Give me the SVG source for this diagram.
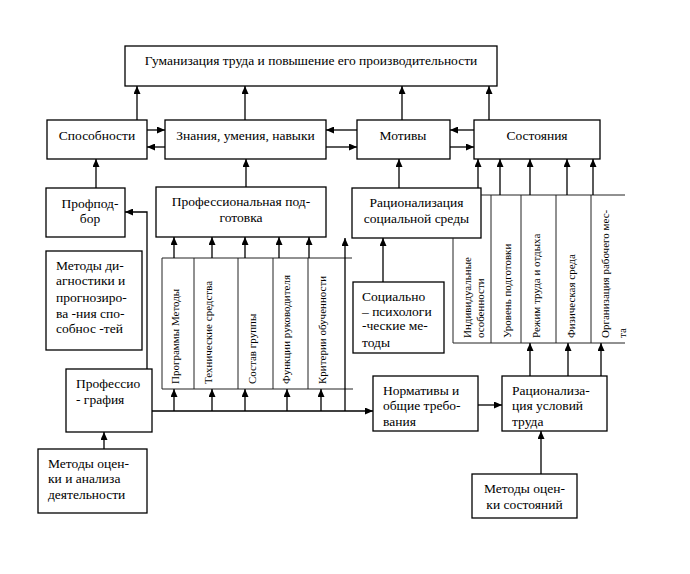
<svg xmlns="http://www.w3.org/2000/svg" width="690" height="574" viewBox="0 0 690 574">
<style>
.b{fill:#fff;stroke:#000;stroke-width:1.3}
.t{font-family:"Liberation Serif","Times New Roman",serif;font-size:13.5px;fill:#000}
.c{text-anchor:middle}
.r{font-family:"Liberation Serif","Times New Roman",serif;font-size:11px;fill:#000}
.l{fill:none;stroke:#000;stroke-width:1.3}
.a{fill:none;stroke:#000;stroke-width:1.3;marker-end:url(#ah)}
.g{fill:none;stroke:#222;stroke-width:1}
</style>
<defs>
<marker id="ah" markerUnits="userSpaceOnUse" markerWidth="8" markerHeight="7" refX="8" refY="3.5" orient="auto">
<path d="M0,0 L8,3.5 L0,7 z" fill="#000"/>
</marker>
</defs>
<rect width="690" height="574" fill="#fff"/>

<g id="title"><rect class="b" x="125" y="46" width="372" height="40"/><text class="t c" x="311" y="65">Гуманизация труда и повышение его производительности</text></g>
<g id="sposobnosti"><rect class="b" x="47" y="120" width="100" height="39"/><text class="t c" x="97" y="140">Способности</text></g>
<g id="znaniya"><rect class="b" x="165" y="120" width="161" height="39"/><text class="t c" x="245.5" y="140">Знания, умения, навыки</text></g>
<g id="motivy"><rect class="b" x="357" y="120" width="93" height="39"/><text class="t c" x="403" y="140">Мотивы</text></g>
<g id="sostoyaniya"><rect class="b" x="474" y="120" width="126" height="39"/><text class="t c" x="537" y="140">Состояния</text></g>

<g id="profpodbor"><rect class="b" x="46" y="188" width="79" height="49"/><text class="t c" x="90" y="208">Профпод-</text><text class="t c" x="90" y="223">бор</text></g>
<g id="profpodgotovka"><rect class="b" x="156" y="187" width="170" height="50"/><text class="t c" x="241" y="206">Профессиональная под-</text><text class="t c" x="241" y="222">готовка</text></g>
<g id="racsoc"><rect class="b" x="352" y="188" width="129" height="50"/><text class="t c" x="416.5" y="207">Рационализация</text><text class="t c" x="416.5" y="223">социальной среды</text></g>

<g id="metdiag"><rect class="b" x="46" y="251" width="96" height="99"/>
<text class="t" x="56" y="270">Методы ди-</text><text class="t" x="56" y="285">агностики и</text><text class="t" x="56" y="302">прогнозиро-</text><text class="t" x="56" y="318">ва -ния спо-</text><text class="t" x="56" y="333">собнос -тей</text></g>

<g id="socpsy"><rect class="b" x="353" y="282" width="91" height="71"/>
<text class="t" x="362" y="301">Социально</text><text class="t" x="362" y="316">– психологи</text><text class="t" x="362" y="330">-ческие ме-</text><text class="t" x="362" y="347">тоды</text></g>

<g id="proftable">
<line class="g" x1="162" y1="258" x2="352" y2="258"/>
<line class="g" x1="162" y1="389" x2="353" y2="389"/>
<line class="g" x1="162" y1="258" x2="162" y2="389"/>
<line class="g" x1="194" y1="258" x2="194" y2="389"/>
<line class="g" x1="238" y1="258" x2="238" y2="389"/>
<line class="g" x1="273" y1="258" x2="273" y2="389"/>
<line class="g" x1="308" y1="258" x2="308" y2="389"/>
<text class="r" transform="translate(179,384) rotate(-90)">Программы Методы</text>
<text class="r" transform="translate(212,384) rotate(-90)">Технические средства</text>
<text class="r" transform="translate(256,384) rotate(-90)">Состав группы</text>
<text class="r" transform="translate(290,384) rotate(-90)">Функции руководителя</text>
<text class="r" transform="translate(326,384) rotate(-90)">Критерии обученности</text>
</g>

<g id="statetable">
<line class="g" x1="481" y1="195" x2="625" y2="195"/>
<line class="g" x1="453" y1="343" x2="625" y2="343"/>
<line class="g" x1="453" y1="238" x2="453" y2="343"/>
<line class="g" x1="491" y1="195" x2="491" y2="343"/>
<line class="g" x1="521" y1="195" x2="521" y2="343"/>
<line class="g" x1="556" y1="195" x2="556" y2="343"/>
<line class="g" x1="591" y1="195" x2="591" y2="343"/>
<text class="r" transform="translate(471,338) rotate(-90)">Индивидуальные</text>
<text class="r" transform="translate(484,338) rotate(-90)">особенности</text>
<text class="r" transform="translate(511,338) rotate(-90)">Уровень подготовки</text>
<text class="r" transform="translate(540,338) rotate(-90)">Режим труда и отдыха</text>
<text class="r" transform="translate(575,338) rotate(-90)">Физическая среда</text>
<text class="r" transform="translate(609,338) rotate(-90)">Организация рабочего мес-</text>
<text class="r" transform="translate(626,338) rotate(-90)">та</text>
</g>

<g id="professiografiya"><rect class="b" x="66" y="369" width="86" height="63"/><text class="t" x="76" y="388">Профессио</text><text class="t" x="76" y="404">- графия</text></g>
<g id="metocenki"><rect class="b" x="38" y="449" width="109" height="64"/><text class="t" x="48" y="468">Методы оцен-</text><text class="t" x="48" y="483">ки и анализа</text><text class="t" x="48" y="499">деятельности</text></g>
<g id="normativy"><rect class="b" x="373" y="376" width="105" height="55"/><text class="t" x="383" y="395">Нормативы и</text><text class="t" x="383" y="410">общие требо-</text><text class="t" x="383" y="426">вания</text></g>
<g id="racusl"><rect class="b" x="502" y="376" width="105" height="55"/><text class="t" x="512" y="395">Рационализа-</text><text class="t" x="512" y="410">ция условий</text><text class="t" x="512" y="426">труда</text></g>
<g id="metsost"><rect class="b" x="472" y="474" width="105" height="44"/><text class="t c" x="524.5" y="493">Методы оцен-</text><text class="t c" x="524.5" y="509">ки состояний</text></g>

<g id="connectors">
<line class="a" x1="137" y1="120" x2="137" y2="86"/>
<line class="a" x1="245" y1="120" x2="245" y2="86"/>
<line class="a" x1="402" y1="120" x2="402" y2="86"/>
<line class="a" x1="489" y1="120" x2="489" y2="86"/>
<line class="a" x1="147" y1="130" x2="165" y2="130"/>
<line class="a" x1="165" y1="147" x2="147" y2="147"/>
<line class="a" x1="357" y1="130" x2="326" y2="130"/>
<line class="a" x1="326" y1="147" x2="357" y2="147"/>
<line class="a" x1="474" y1="130" x2="450" y2="130"/>
<line class="a" x1="450" y1="147" x2="474" y2="147"/>
<line class="a" x1="96" y1="188" x2="96" y2="159"/>
<line class="a" x1="246" y1="187" x2="246" y2="159"/>
<line class="a" x1="399" y1="188" x2="399" y2="159"/>
<line class="a" x1="478" y1="188" x2="478" y2="159"/>
<line class="a" x1="500" y1="195" x2="500" y2="159"/>
<line class="a" x1="530" y1="195" x2="530" y2="159"/>
<line class="a" x1="567" y1="195" x2="567" y2="159"/>
<line class="a" x1="593" y1="195" x2="593" y2="159"/>
<polyline class="a" points="147,369 147,212 125,212"/>
<line class="a" x1="174" y1="258" x2="174" y2="237"/>
<line class="a" x1="212" y1="258" x2="212" y2="237"/>
<line class="a" x1="245" y1="258" x2="245" y2="237"/>
<line class="a" x1="279" y1="258" x2="279" y2="237"/>
<line class="a" x1="309" y1="258" x2="309" y2="237"/>
<line class="a" x1="345" y1="411" x2="345" y2="238"/>
<line class="a" x1="152" y1="411" x2="373" y2="411"/>
<line class="a" x1="174" y1="411" x2="174" y2="389"/>
<line class="a" x1="212" y1="411" x2="212" y2="389"/>
<line class="a" x1="245" y1="411" x2="245" y2="389"/>
<line class="a" x1="287" y1="411" x2="287" y2="389"/>
<line class="a" x1="321" y1="411" x2="321" y2="389"/>
<line class="a" x1="383" y1="282" x2="383" y2="238"/>
<line class="a" x1="478" y1="405" x2="502" y2="405"/>
<line class="a" x1="541" y1="474" x2="541" y2="431"/>
<line class="a" x1="530" y1="376" x2="530" y2="343"/>
<line class="a" x1="568" y1="376" x2="568" y2="343"/>
<line class="a" x1="601" y1="376" x2="601" y2="343"/>
<line class="a" x1="104" y1="449" x2="104" y2="432"/>
</g>
</svg>
